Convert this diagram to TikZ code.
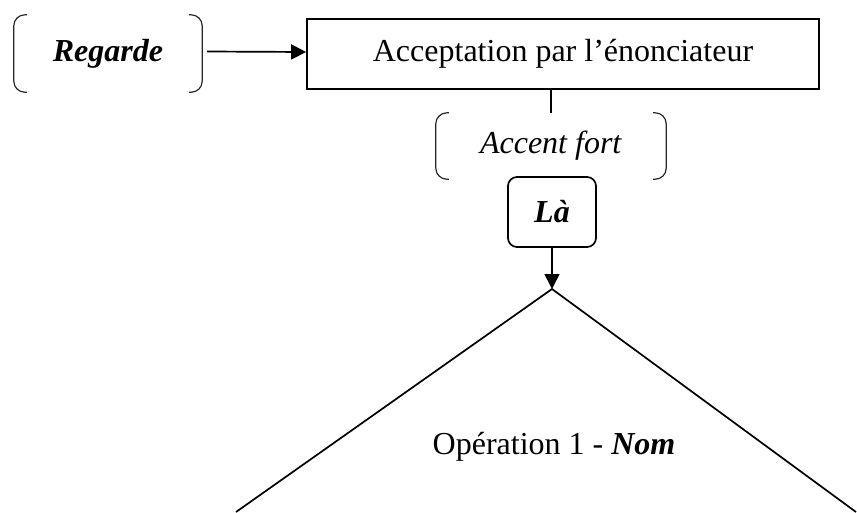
\documentclass[tikz,border=0pt]{standalone}
\usepackage{fontspec}
\setmainfont{Liberation Serif}
\usetikzlibrary{arrows.meta}
\begin{document}
\begin{tikzpicture}[x=1pt,y=-1pt,
  base/.style={line width=1.7pt},
  thin bracket/.style={line width=1.2pt, black!85, rounded corners=11pt},
  txt/.style={font=\fontsize{32}{38}\selectfont, inner sep=0pt},
  arr/.style={base, -{Triangle[length=15pt,width=15pt]}},
]
\useasboundingbox (0,0) rectangle (857,512);

% Regarde (bracketed)
\node[txt, minimum width=188pt, minimum height=77pt] (reg) at (108,53.5) {\textbf{\textit{Regarde}}};
\draw[thin bracket] ([xshift=13pt]reg.north west) -- (reg.north west) -- (reg.south west) -- ([xshift=13pt]reg.south west);
\draw[thin bracket] ([xshift=-13pt]reg.north east) -- (reg.north east) -- (reg.south east) -- ([xshift=-13pt]reg.south east);

% Acceptation box
\node[txt, draw, base, minimum width=512pt, minimum height=70pt] (acc) at (563,54) {Acceptation par l’énonciateur};

\draw[arr] ([xshift=5pt,yshift=2pt]reg.east) -- ([yshift=2pt]acc.west);

% Accent fort (bracketed)
\node[txt, minimum width=230pt, minimum height=66pt] (af) at (551,146) {\raisebox{-4pt}{\textit{Accent fort}}};
\draw[thin bracket] ([xshift=13pt]af.north west) -- (af.north west) -- (af.south west) -- ([xshift=13pt]af.south west);
\draw[thin bracket] ([xshift=-13pt]af.north east) -- (af.north east) -- (af.south east) -- ([xshift=-13pt]af.south east);

\draw[line width=1.2pt] (af.north) -- (af.north |- acc.south);

% La box
\node[txt, draw, base, rounded corners=9pt, minimum width=88pt, minimum height=70pt] (la) at (552,212) {\textbf{\textit{Là}}};

% Triangle
\coordinate (apex) at (552,289);
\coordinate (tl) at (236,512);
\coordinate (tr) at (856,512);
\draw[base, line join=miter] (tl) -- (apex) -- (tr);

\draw[arr] (la.south) -- (apex);

\node[txt] (op) at (554,447) {Opération 1 - \textbf{\textit{Nom}}};
\end{tikzpicture}
\end{document}
